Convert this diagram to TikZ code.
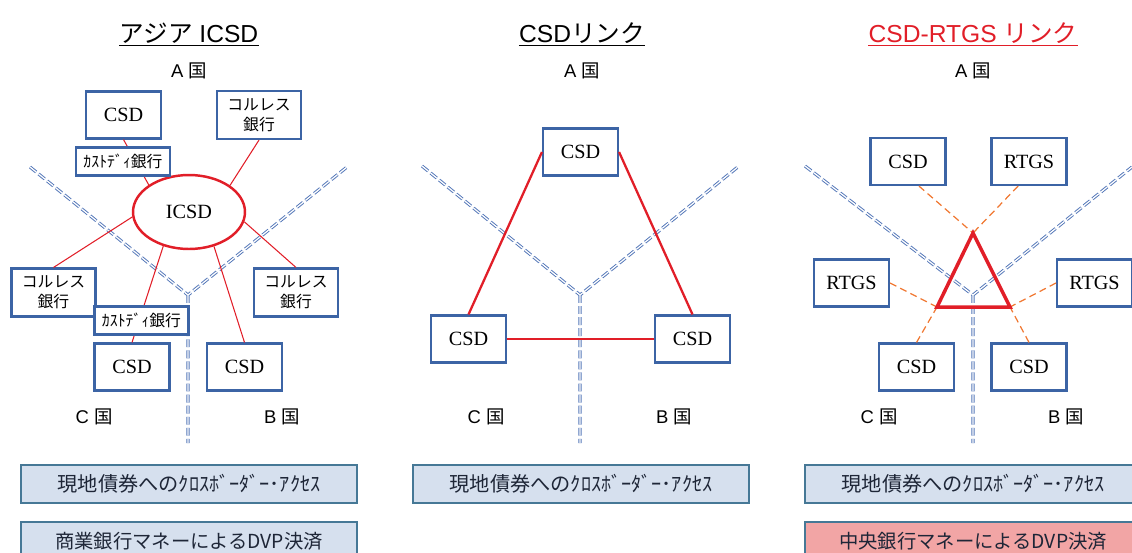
\documentclass[tikz,border=0pt]{standalone}
\usepackage{fontspec}
\setmainfont{Liberation Sans}
\newfontfamily\jp{Noto Sans CJK JP}
\newfontfamily\tms{Liberation Serif}
\usetikzlibrary{shapes.geometric}
\definecolor{boxblue}{RGB}{60,100,165}
\definecolor{lineblue}{RGB}{85,120,185}
\definecolor{linkred}{RGB}{225,30,40}
\definecolor{linkorange}{RGB}{240,120,50}
\definecolor{panelblue}{RGB}{214,224,238}
\definecolor{panelpink}{RGB}{242,165,165}
\definecolor{paneledge}{RGB}{70,120,150}
\definecolor{bandtext}{RGB}{30,38,55}

\begin{document}
\begin{tikzpicture}[x=0.02cm,y=-0.02cm,
  box/.style={draw=boxblue,line width=1.2pt,fill=white,inner sep=0pt,minimum width=1.5cm,minimum height=0.94cm,font=\tms\fontsize{11.5}{13}\selectfont},
  bank/.style={box,minimum width=1.68cm,minimum height=0.96cm,align=center,font=\jp\fontsize{9}{11.5}\selectfont},
  cust/.style={box,minimum width=1.88cm,minimum height=0.56cm,font=\jp\fontsize{9}{10}\selectfont},
  heading/.style={anchor=base,inner xsep=0pt,font=\fontsize{14}{16}\selectfont},
  land/.style={anchor=base,font=\fontsize{10.5}{12}\selectfont},
  frontier/.style={draw=lineblue,line width=0.55pt,double=white,double distance=0.7pt,dash pattern=on 4.5pt off 1.8pt},
  spoke/.style={draw=linkred,line width=0.6pt},
  redlink/.style={draw=linkred,line width=1.3pt},
  feed/.style={draw=linkorange,line width=0.7pt,dash pattern=on 4pt off 2.5pt},
  band/.style={draw=paneledge,line width=0.8pt,fill=panelblue,text=bandtext,minimum width=6.72cm,minimum height=0.76cm,font=\jp\fontsize{11.5}{13}\selectfont}]
\useasboundingbox (0,0) rectangle (1132,552);

\node[heading] (T1) at (189,42) {{\jp アジア} ICSD};
\draw[line width=1.1pt] ([yshift=-2pt]T1.base west) -- ([yshift=-2pt]T1.base east);
\node[land] (A1) at (189,77) {A {\jp 国}};
\node[land] (C1) at (94,423) {C {\jp 国}};
\node[land] (B1) at (282,423) {B {\jp 国}};
\draw[frontier] (30,167) -- (188,295) -- (347,167) (188,295) -- (188,443);
\node[box] (D1) at (123.5,115) {CSD};
\node[bank] (R1) at (259,115) {コルレス\\銀行};
\node[draw=linkred,line width=1.4pt,fill=white,ellipse,minimum width=2.24cm,minimum height=1.48cm,inner sep=0pt,font=\tms\fontsize{11.5}{13}\selectfont] (I) at (189,212) {ICSD};
\node[bank] (R2) at (53.5,292.5) {コルレス\\銀行};
\node[bank] (R3) at (296,292.5) {コルレス\\銀行};
\node[box] (D2) at (132,367) {CSD};
\node[box] (D3) at (244.5,367) {CSD};
\draw[spoke] (D1.south) -- (I.146);
\draw[spoke] (R1.south) -- (I.33);
\draw[spoke] (R2.north) -- (I.185);
\draw[spoke] (D2.north) -- (I.233);
\draw[spoke] (D3.north) -- (I.306);
\draw[spoke] (R3.north) -- (I.350);
\node[cust] (K1) at (123,161.5) {ｶｽﾄﾃﾞｨ銀行};
\node[cust] (K2) at (141.5,320.5) {ｶｽﾄﾃﾞｨ銀行};
\node[band] (P1) at (189,484) {現地債券へのｸﾛｽﾎﾞｰﾀﾞｰ･ｱｸｾｽ};
\node[band,font=\jp\fontsize{11}{13}\selectfont] (Q1) at (189,541) {商業銀行マネーによるDVP決済};

\node[heading] (T2) at (582,42) {CSD{\jp リンク}};
\draw[line width=1.1pt] ([yshift=-2pt]T2.base west) -- ([yshift=-2pt]T2.base east);
\node[land] (A2) at (582,77) {A {\jp 国}};
\node[land] (C2) at (486,423) {C {\jp 国}};
\node[land] (B2) at (674,423) {B {\jp 国}};
\draw[frontier] (422,166) -- (580,295) -- (739,166) (580,295) -- (580,443);
\node[box] (M1) at (580.5,152) {CSD};
\node[box] (M2) at (468.5,339) {CSD};
\node[box] (M3) at (692.5,339) {CSD};
\draw[redlink] (M1.west) -- (M2.north);
\draw[redlink] (M1.east) -- (M3.north);
\draw[redlink] (M2) -- (M3);
\node[band] (P2) at (581,484) {現地債券へのｸﾛｽﾎﾞｰﾀﾞｰ･ｱｸｾｽ};

\node[heading,text=linkred] (T3) at (973,42) {CSD-RTGS {\jp リンク}};
\draw[linkred,line width=1.1pt] ([yshift=-2pt]T3.base west) -- ([yshift=-2pt]T3.base east);
\node[land] (A3) at (973,77) {A {\jp 国}};
\node[land] (C3) at (879,423) {C {\jp 国}};
\node[land] (B3) at (1066,423) {B {\jp 国}};
\draw[frontier] (805,166) -- (973,295) -- (1132,167) (973,295) -- (973,443);
\coordinate (V1) at (973,233);
\coordinate (V2) at (937,307);
\coordinate (V3) at (1010,307);
\node[box] (S1) at (908,161.5) {CSD};
\node[box] (G1) at (1029,161.5) {RTGS};
\node[box] (G2) at (851.5,283) {RTGS};
\node[box] (G3) at (1094.5,283) {RTGS};
\node[box] (S2) at (916.5,367) {CSD};
\node[box] (S3) at (1029,367) {CSD};
\draw[feed] (S1.294) -- (V1);
\draw[feed] (G1.246) -- (V1);
\draw[feed] (G2.east) -- (V2);
\draw[feed] (G3.west) -- (V3);
\draw[feed] (S2.north) -- (V2);
\draw[feed] (S3.north) -- (V3);
\draw[linkred,line width=2pt] (V1) -- (V2) -- (V3) -- cycle;
\node[band] (P3) at (973,484) {現地債券へのｸﾛｽﾎﾞｰﾀﾞｰ･ｱｸｾｽ};
\node[band,fill=panelpink,font=\jp\fontsize{11}{13}\selectfont] (Q3) at (973,541) {中央銀行マネーによるDVP決済};
\end{tikzpicture}
\end{document}
